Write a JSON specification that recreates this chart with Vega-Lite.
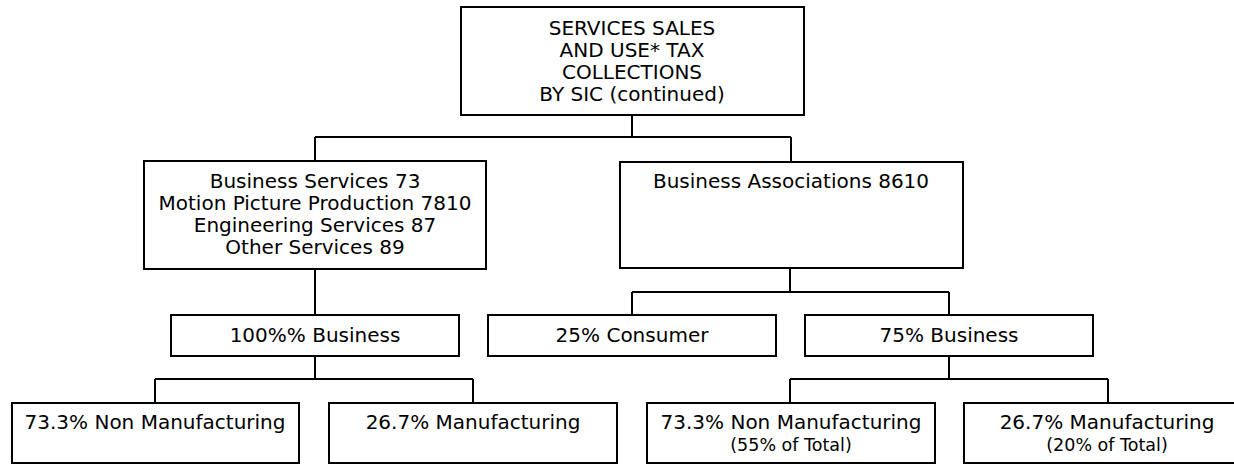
{
  "$schema": "https://vega.github.io/schema/vega-lite/v6.json",
  "width": 1234,
  "height": 465,
  "padding": 0,
  "autosize": {"type": "none"},
  "background": "white",
  "config": {"view": {"stroke": null}},
  "datasets": {
    "boxes": [
      {"id": "root", "x1": 461, "x2": 804, "y1": 7, "y2": 115, "cx": 632, "ty": 35, "label": "SERVICES SALES|AND USE* TAX|COLLECTIONS|BY SIC (continued)", "sub": ""},
      {"id": "left", "x1": 144, "x2": 486, "y1": 161, "y2": 269, "cx": 315, "ty": 188, "label": "Business Services 73|Motion Picture Production 7810|Engineering Services 87|Other Services 89", "sub": ""},
      {"id": "right", "x1": 620, "x2": 963, "y1": 162, "y2": 268, "cx": 791, "ty": 188, "label": "Business Associations 8610", "sub": ""},
      {"id": "lbus", "x1": 171, "x2": 459, "y1": 315, "y2": 356, "cx": 315, "ty": 342, "label": "100%% Business", "sub": ""},
      {"id": "cons", "x1": 488, "x2": 776, "y1": 315, "y2": 356, "cx": 632, "ty": 342, "label": "25% Consumer", "sub": ""},
      {"id": "rbus", "x1": 805, "x2": 1093, "y1": 315, "y2": 356, "cx": 949, "ty": 342, "label": "75% Business", "sub": ""},
      {"id": "lnon", "x1": 12, "x2": 299, "y1": 403, "y2": 463, "cx": 155, "ty": 429, "label": "73.3% Non Manufacturing", "sub": ""},
      {"id": "lman", "x1": 329, "x2": 617, "y1": 403, "y2": 463, "cx": 473, "ty": 429, "label": "26.7% Manufacturing", "sub": ""},
      {"id": "rnon", "x1": 647, "x2": 935, "y1": 403, "y2": 463, "cx": 791, "ty": 429, "label": "73.3% Non Manufacturing", "sub": "(55% of Total)"},
      {"id": "rman", "x1": 964, "x2": 1252, "y1": 403, "y2": 463, "cx": 1107, "ty": 429, "label": "26.7% Manufacturing", "sub": "(20% of Total)"}
    ],
    "links": [
      {"x1": 632, "x2": 632, "y1": 115, "y2": 137},
      {"x1": 315, "x2": 791, "y1": 137, "y2": 137},
      {"x1": 315, "x2": 315, "y1": 137, "y2": 161},
      {"x1": 791, "x2": 791, "y1": 137, "y2": 162},
      {"x1": 315, "x2": 315, "y1": 269, "y2": 315},
      {"x1": 790, "x2": 790, "y1": 268, "y2": 292},
      {"x1": 632, "x2": 949, "y1": 292, "y2": 292},
      {"x1": 632, "x2": 632, "y1": 292, "y2": 315},
      {"x1": 949, "x2": 949, "y1": 292, "y2": 315},
      {"x1": 315, "x2": 315, "y1": 356, "y2": 379},
      {"x1": 155, "x2": 473, "y1": 379, "y2": 379},
      {"x1": 155, "x2": 155, "y1": 379, "y2": 403},
      {"x1": 473, "x2": 473, "y1": 379, "y2": 403},
      {"x1": 949, "x2": 949, "y1": 356, "y2": 379},
      {"x1": 790, "x2": 1108, "y1": 379, "y2": 379},
      {"x1": 790, "x2": 790, "y1": 379, "y2": 403},
      {"x1": 1108, "x2": 1108, "y1": 379, "y2": 403}
    ]
  },
  "layer": [
    {
      "data": {"name": "links"},
      "mark": {"type": "rule", "color": "black", "strokeWidth": 2},
      "encoding": {
        "x": {"field": "x1", "type": "quantitative", "scale": {"domain": [0, 1234], "nice": false, "zero": false}, "axis": null},
        "x2": {"field": "x2"},
        "y": {"field": "y1", "type": "quantitative", "scale": {"domain": [0, 465], "nice": false, "zero": false, "reverse": true}, "axis": null},
        "y2": {"field": "y2"}
      }
    },
    {
      "data": {"name": "boxes"},
      "mark": {"type": "rect", "fill": "white", "stroke": "black", "strokeWidth": 2, "clip": true},
      "encoding": {
        "x": {"field": "x1", "type": "quantitative"},
        "x2": {"field": "x2"},
        "y": {"field": "y1", "type": "quantitative"},
        "y2": {"field": "y2"}
      }
    },
    {
      "data": {"name": "boxes"},
      "mark": {"type": "text", "font": "DejaVu Sans", "fontSize": 20, "align": "center", "baseline": "alphabetic", "lineBreak": "|", "lineHeight": 22, "color": "black"},
      "encoding": {
        "x": {"field": "cx", "type": "quantitative"},
        "y": {"field": "ty", "type": "quantitative"},
        "text": {"field": "label"}
      }
    },
    {
      "data": {"name": "boxes"},
      "transform": [{"filter": "datum.sub != ''"}],
      "mark": {"type": "text", "font": "DejaVu Sans", "fontSize": 17.5, "align": "center", "baseline": "alphabetic", "dy": 22, "color": "black"},
      "encoding": {
        "x": {"field": "cx", "type": "quantitative"},
        "y": {"field": "ty", "type": "quantitative"},
        "text": {"field": "sub"}
      }
    }
  ]
}
